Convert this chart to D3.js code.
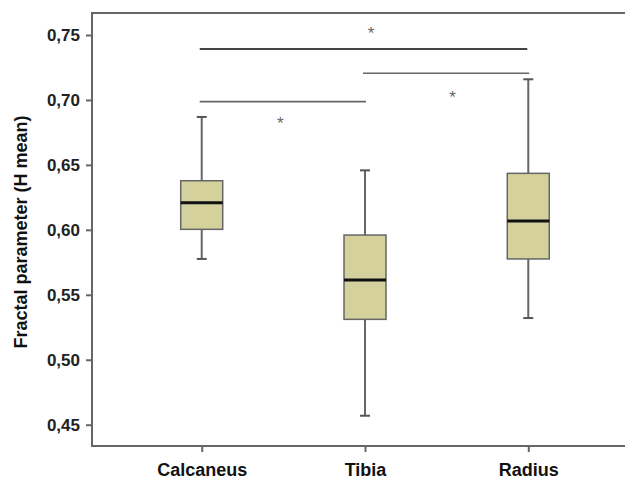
<!DOCTYPE html>
<html>
<head>
<meta charset="utf-8">
<script src="https://cdn.jsdelivr.net/npm/d3@7"></script>
<style>
  body { margin: 0; background: #fff; }
  svg { display: block; font-family: "Liberation Sans", Arial, sans-serif; }
</style>
</head>
<body>
<div id="chart"></div>
<script>
// data
const bones = ["Calcaneus", "Tibia", "Radius"];
const whiskerLow = [0.5776, 0.4569, 0.5321];
const q1 = [0.6004, 0.5311, 0.5776];
const median = [0.6209, 0.5614, 0.6068];
const q3 = [0.6378, 0.5960, 0.6435];
const whiskerHigh = [0.6869, 0.6458, 0.7159];
const yTicks = [0.45, 0.50, 0.55, 0.60, 0.65, 0.70, 0.75];

// significance brackets: from, to, line value, star value
const sigFrom = ["Calcaneus", "Tibia", "Calcaneus"];
const sigTo = ["Radius", "Radius", "Tibia"];
const sigLevel = [0.7392, 0.7205, 0.6987];
const sigStar = [0.7546, 0.7056, 0.6853];

const width = 625, height = 479;
const margin = { left: 92, top: 13, bottom: 446 };

const svg = d3.select("#chart").append("svg")
    .attr("width", width)
    .attr("height", height);

const x = d3.scalePoint()
    .domain(bones)
    .range([margin.left, 638])
    .padding(0.672);

const y = d3.scaleLinear()
    .domain([0.45, 0.75])
    .range([424.7, 35]);

const fmt = d => d.toFixed(2).replace(".", ",");

// y axis
const yAxis = svg.append("g")
    .attr("transform", `translate(${margin.left},0)`)
    .call(d3.axisLeft(y).tickValues(yTicks).tickFormat(fmt).tickSize(6).tickPadding(6));
yAxis.select(".domain").remove();
yAxis.selectAll("line").attr("stroke", "#666").attr("stroke-width", 2);
yAxis.selectAll("text")
    .attr("fill", "#222")
    .style("font-size", "17px")
    .style("font-weight", "bold");

// x axis
const xAxis = svg.append("g")
    .attr("transform", `translate(0,${margin.bottom})`)
    .call(d3.axisBottom(x).tickSize(6).tickPadding(11));
xAxis.select(".domain").remove();
xAxis.selectAll("line").attr("stroke", "#666").attr("stroke-width", 2);
xAxis.selectAll("text")
    .attr("fill", "#111")
    .style("font-size", "18px")
    .style("font-weight", "bold");

// frame (right side is cut off in the original)
svg.append("path")
    .attr("d", `M${width},${margin.top}H${margin.left}V${margin.bottom}H${width}`)
    .attr("fill", "none")
    .attr("stroke", "#666")
    .attr("stroke-width", 2);

// y label
svg.append("text")
    .attr("transform", `translate(27,${232}) rotate(-90)`)
    .attr("text-anchor", "middle")
    .attr("fill", "#111")
    .style("font-size", "18px")
    .style("font-weight", "bold")
    .text("Fractal parameter (H mean)");

// boxes
const boxW = 42, capW = 10;
bones.forEach((b, i) => {
    const cx = x(b);
    const g = svg.append("g");
    g.append("line")
        .attr("x1", cx).attr("x2", cx)
        .attr("y1", y(whiskerHigh[i])).attr("y2", y(q3[i]))
        .attr("stroke", "#666").attr("stroke-width", 2);
    g.append("line")
        .attr("x1", cx).attr("x2", cx)
        .attr("y1", y(q1[i])).attr("y2", y(whiskerLow[i]))
        .attr("stroke", "#666").attr("stroke-width", 2);
    [whiskerHigh[i], whiskerLow[i]].forEach(v => {
        g.append("line")
            .attr("x1", cx - capW / 2).attr("x2", cx + capW / 2)
            .attr("y1", y(v)).attr("y2", y(v))
            .attr("stroke", "#555").attr("stroke-width", 2);
    });
    g.append("rect")
        .attr("x", cx - boxW / 2)
        .attr("y", y(q3[i]))
        .attr("width", boxW)
        .attr("height", y(q1[i]) - y(q3[i]))
        .attr("fill", "#d5d19c")
        .attr("stroke", "#666")
        .attr("stroke-width", 1.5);
    g.append("line")
        .attr("x1", cx - boxW / 2).attr("x2", cx + boxW / 2)
        .attr("y1", y(median[i])).attr("y2", y(median[i]))
        .attr("stroke", "#111").attr("stroke-width", 3);
});

// significance lines
const starDx = [6, 6, -3];
sigLevel.forEach((v, i) => {
    const x1 = x(sigFrom[i]) - 2, x2 = x(sigTo[i]) + (i === 0 ? -1 : 1);
    svg.append("line")
        .attr("x1", x1).attr("x2", x2)
        .attr("y1", y(v)).attr("y2", y(v))
        .attr("stroke", i === 0 ? "#444" : "#666")
        .attr("stroke-width", i === 0 ? 2 : 1.6);
    svg.append("text")
        .attr("x", (x(sigFrom[i]) + x(sigTo[i])) / 2 + starDx[i])
        .attr("y", y(sigStar[i]) + 10)
        .attr("text-anchor", "middle")
        .attr("fill", "#666")
        .style("font-size", "17px")
        .text("*");
});
</script>
</body>
</html>
